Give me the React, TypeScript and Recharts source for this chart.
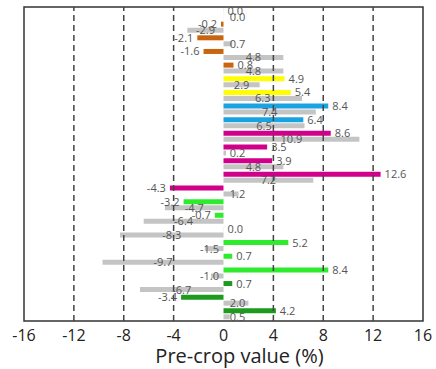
import React from "react";
import {
  BarChart,
  Bar,
  XAxis,
  YAxis,
  Cell,
  LabelList,
  ReferenceLine,
  ReferenceArea,
} from "recharts";

if (typeof document !== "undefined") document.body.style.margin = "0";

// one row per pair, top to bottom
const rowIds = Array.from({ length: 23 }, (_, i) => `r${i + 1}`);
const cropValues = [
  0.0, -0.2, -2.1, -1.6, 0.8, 4.9, 5.4, 8.4, 6.4, 8.6, 3.5, 3.9, 12.6, -4.3,
  -3.2, -0.7, 0.0, 5.2, 0.7, 8.4, 0.7, -3.4, 4.2,
];
const preCropValues = [
  0.0, -2.9, 0.7, 4.8, 4.8, 2.9, 6.3, 7.4, 6.5, 10.9, 0.2, 4.8, 7.2, 1.2,
  -4.7, -6.4, -8.3, -1.5, -9.7, -1.0, -6.7, 2.0, 0.5,
];
const groupSizes = [5, 2, 2, 5, 6, 3];
const groupColors = ["#C9650F", "#FFFF00", "#1AA3E3", "#D1008A", "#2EEB2E", "#1E9A1E"];
const xTicks = [-16, -12, -8, -4, 0, 4, 8, 12, 16];
const gridLines = [-12, -8, -4, 4, 8, 12];

const rowColors = groupSizes.flatMap((n, g) => Array(n).fill(groupColors[g]));
const data = rowIds.map((id, i) => ({
  id,
  crop: cropValues[i],
  pre: preCropValues[i],
}));

const FONT = "'Open Sans', sans-serif";

function OutsideLabel(props: any) {
  const { x, y, width, height, value } = props;
  const v = Number(value);
  const right = v >= 0;
  const tx = right ? Math.max(x, x + width) + 4 : Math.min(x, x + width) - 4;
  return (
    <text
      x={tx}
      y={y + height / 2}
      dy={4}
      textAnchor={right ? "start" : "end"}
      fontSize={11}
      fontFamily={FONT}
      fill="#555"
    >
      {v.toFixed(1)}
    </text>
  );
}

// centred in the bar, but pushed clear of the zero line for short bars
function CenterLabel(props: any) {
  const { x, y, width, height, value } = props;
  const v = Number(value);
  const sign = v < 0 ? -1 : 1;
  const half = Math.max(Math.abs(width) / 2, 14);
  return (
    <text
      x={x + sign * half}
      y={y + height / 2}
      dy={4}
      textAnchor="middle"
      fontSize={11}
      fontFamily={FONT}
      fill="#555"
    >
      {v.toFixed(1)}
    </text>
  );
}

export default function App() {
  return (
    <div style={{ width: 436, height: 369, background: "#fff" }}>
      <BarChart
        width={436}
        height={369}
        data={data}
        layout="vertical"
        margin={{ top: 7, right: 13, bottom: 0, left: 24 }}
        barCategoryGap={1}
        barGap={1}
      >
        <XAxis
          type="number"
          domain={[-16, 16]}
          ticks={xTicks}
          allowDataOverflow
          height={48}
          axisLine={false}
          tickLine={false}
          tickMargin={3}
          tick={{ fill: "#222", fontSize: 16, fontFamily: FONT }}
          label={{
            value: "Pre-crop value (%)",
            position: "insideBottom",
            offset: 6,
            dx: 16,
            fill: "#222",
            fontSize: 20,
            fontFamily: FONT,
          }}
        />
        <YAxis type="category" dataKey="id" hide />
        {gridLines.map((g) => (
          <ReferenceLine
            key={g}
            x={g}
            stroke="#444"
            strokeWidth={1.5}
            strokeDasharray="6 4"
          />
        ))}
        <Bar dataKey="crop" minPointSize={0.1} isAnimationActive={false}>
          {data.map((d, i) => (
            <Cell key={d.id} fill={rowColors[i]} />
          ))}
          <LabelList dataKey="crop" content={OutsideLabel} />
        </Bar>
        <Bar dataKey="pre" fill="#C4C4C4" minPointSize={0.1} isAnimationActive={false}>
          <LabelList dataKey="pre" content={CenterLabel} />
        </Bar>
        <ReferenceArea
          x1={-16}
          x2={16}
          fill="none"
          stroke="#333"
          strokeWidth={1.5}
          ifOverflow="visible"
        />
      </BarChart>
    </div>
  );
}
